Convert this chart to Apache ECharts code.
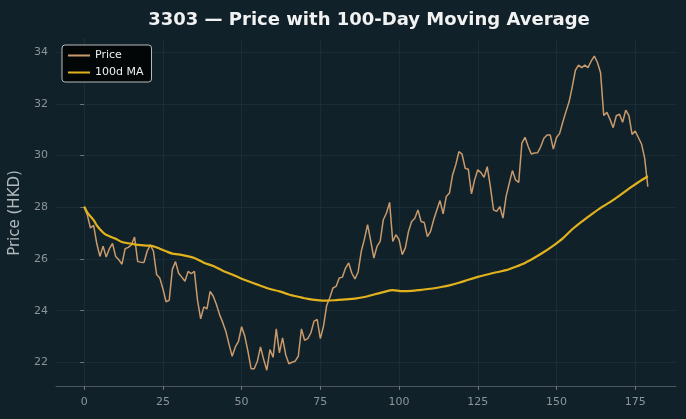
<!DOCTYPE html>
<html>
<head>
<meta charset="utf-8">
<script src="https://cdn.jsdelivr.net/npm/echarts@6/dist/echarts.min.js"></script>
<style>
html, body { margin: 0; padding: 0; background: #10212a; }
#chart { width: 686px; height: 419px; }
</style>
</head>
<body>
<div id="chart"></div>
<script>
// daily close, day 0..179
var price = [
	28.0, 27.7, 27.2, 27.3, 26.6, 26.1, 26.5, 26.08, 26.4, 26.6,
	26.1, 25.97, 25.8, 26.4, 26.45, 26.55, 26.85, 25.9, 25.88, 25.87,
	26.3, 26.55, 26.3, 25.4, 25.27, 24.85, 24.35, 24.4, 25.6, 25.9,
	25.45, 25.3, 25.14, 25.52, 25.44, 25.52, 24.4, 23.69, 24.15, 24.07,
	24.75, 24.56, 24.24, 23.85, 23.55, 23.2, 22.7, 22.24, 22.6, 22.82,
	23.38, 23.02, 22.44, 21.76, 21.76, 22.05, 22.6, 22.12, 21.7, 22.5,
	22.2, 23.3, 22.37, 22.95, 22.3, 21.95, 22.01, 22.05, 22.24, 23.3,
	22.86, 22.92, 23.15, 23.6, 23.66, 22.92, 23.4, 24.2, 24.5, 24.88,
	24.94, 25.27, 25.3, 25.65, 25.85, 25.45, 25.23, 25.5, 26.3, 26.77,
	27.33, 26.7, 26.04, 26.49, 26.68, 27.52, 27.78, 28.19, 26.68, 26.94,
	26.75, 26.17, 26.43, 27.07, 27.45, 27.58, 27.9, 27.45, 27.41, 26.87,
	27.07, 27.52, 27.9, 28.26, 27.75, 28.42, 28.55, 29.25, 29.64, 30.15,
	30.06, 29.51, 29.47, 28.52, 29.06, 29.45, 29.34, 29.16, 29.57, 28.8,
	27.9, 27.84, 28.03, 27.58, 28.42, 28.93, 29.42, 29.06, 28.96, 30.48,
	30.71, 30.35, 30.06, 30.1, 30.11, 30.35, 30.67, 30.8, 30.8, 30.25,
	30.7, 30.86, 31.3, 31.7, 32.08, 32.66, 33.3, 33.5, 33.4, 33.5,
	33.4, 33.65, 33.85, 33.6, 33.2, 31.55, 31.67, 31.4, 31.08, 31.54,
	31.6, 31.29, 31.76, 31.55, 30.82, 30.95, 30.7, 30.45, 29.9, 28.8
];

// 100-day moving average, read at these days
var maDays = [0, 1, 2, 3, 4, 5, 6.5, 8, 10, 12, 14, 16, 18, 20, 22, 24, 26, 28, 30, 32,
	35, 38, 41, 44, 47, 50, 53, 56, 59, 62, 65, 68, 71, 74, 77, 80, 83, 86, 89, 92,
	95, 98, 101, 104, 107, 110, 113, 116, 119, 122, 125, 128, 131, 134, 137, 140, 143, 146, 149, 152,
	155, 158, 161, 164, 167, 170, 173, 176, 179];
var maValues = [28.03, 27.8, 27.65, 27.5, 27.3, 27.15, 26.97, 26.88, 26.78, 26.66, 26.61, 26.57, 26.54, 26.52, 26.49, 26.4, 26.3, 26.21, 26.18, 26.13,
	26.04, 25.86, 25.73, 25.55, 25.4, 25.24, 25.1, 24.97, 24.84, 24.75, 24.63, 24.54, 24.46, 24.41, 24.39, 24.41, 24.44, 24.47, 24.53, 24.63,
	24.72, 24.8, 24.76, 24.77, 24.81, 24.85, 24.91, 24.98, 25.08, 25.2, 25.31, 25.4, 25.49, 25.57, 25.7, 25.85, 26.05, 26.27, 26.52, 26.8,
	27.15, 27.45, 27.72, 27.98, 28.2, 28.45, 28.72, 28.97, 29.2];

var xTicks = [0, 25, 50, 75, 100, 125, 150, 175];
var yTicks = [22, 24, 26, 28, 30, 32, 34];

var chart = echarts.init(document.getElementById('chart'));

var pricePts = price.map(function(v, i) { return [i, v]; });
var maPts = maDays.map(function(d, i) { return [d, maValues[i]]; });

var font = 'DejaVu Sans';
var gridColor = '#1a2c34';

option = {
	backgroundColor: '#10212a',
	animation: false,
	title: {
		text: '3303 — Price with 100-Day Moving Average',
		left: 364,
		textAlign: 'center',
		top: 6,
		textStyle: { color: '#f2f2f2', fontFamily: font, fontWeight: 'bold', fontSize: 18 }
	},
	legend: {
		orient: 'vertical',
		left: 62,
		top: 45,
		padding: [5, 8, 4, 6],
		itemGap: 6,
		itemWidth: 22,
		itemHeight: 2,
		backgroundColor: '#020607',
		borderColor: '#b8bcbe',
		borderWidth: 1,
		borderRadius: 3,
		textStyle: { color: '#eeeeee', fontFamily: font, fontSize: 11 },
		data: [
			{ name: 'Price', icon: 'rect', itemStyle: { color: '#c99a6b' } },
			{ name: '100d MA', icon: 'rect', itemStyle: { color: '#e2b21c' } }
		]
	},
	grid: { left: 56, right: 10, top: 40, bottom: 33 },
	xAxis: {
		type: 'value',
		min: -8.95,
		max: 187.95,
		axisLine: { lineStyle: { color: '#4d575b' } },
		axisTick: { customValues: xTicks, length: 4, lineStyle: { color: '#6f777b' } },
		axisLabel: { customValues: xTicks, color: '#8d9498', fontFamily: font, fontSize: 11, margin: 11 },
		splitLine: { show: false }
	},
	yAxis: {
		type: 'value',
		min: 21.09,
		max: 34.47,
		name: 'Price (HKD)',
		nameLocation: 'middle',
		nameGap: 25,
		nameTextStyle: { color: '#b3babd', fontFamily: font, fontSize: 15 },
		axisLine: { show: true, lineStyle: { color: '#4d575b' } },
		axisTick: { show: true, customValues: yTicks, length: 4, lineStyle: { color: '#6f777b' } },
		axisLabel: { customValues: yTicks, color: '#8d9498', fontFamily: font, fontSize: 11, margin: 8 },
		splitLine: { show: true, lineStyle: { color: gridColor, width: 1 } }
	},
	series: [
		{
			name: 'Price',
			type: 'line',
			data: pricePts,
			showSymbol: false,
			lineStyle: { color: '#c99a6b', width: 1.5 },
			itemStyle: { color: '#c99a6b' },
			z: 2,
			markLine: {
				silent: true,
				z: 1,
				symbol: ['none', 'none'],
				label: { show: false },
				lineStyle: { color: gridColor, width: 1, type: 'solid' },
				data: xTicks.map(function(t) { return { xAxis: t }; })
			}
		},
		{
			name: '100d MA',
			type: 'line',
			data: maPts,
			showSymbol: false,
			smooth: 0.3,
			lineStyle: { color: '#e2b21c', width: 2.2 },
			itemStyle: { color: '#e2b21c' },
			z: 3
		}
	]
};

chart.setOption(option);
</script>
</body>
</html>
